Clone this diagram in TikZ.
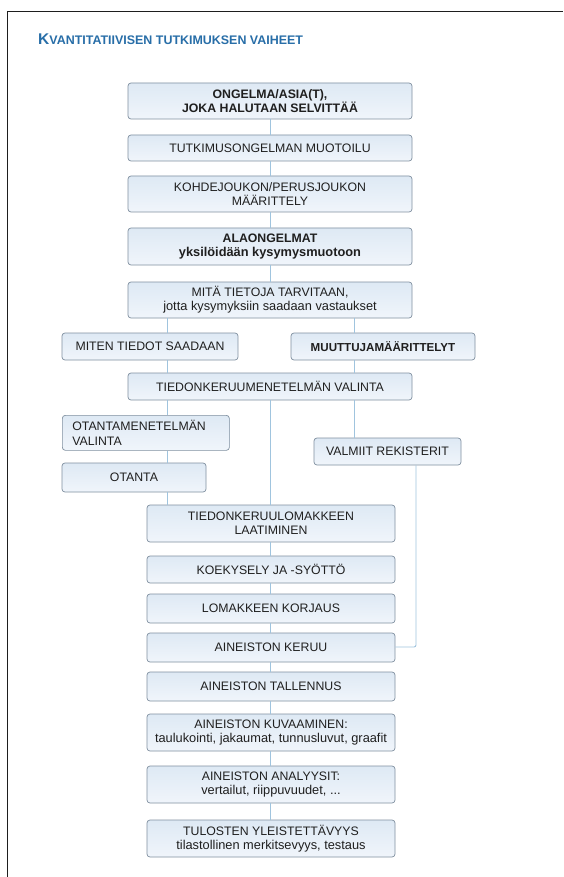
\documentclass[tikz,border=0pt]{standalone}
\usepackage{fontspec}
\setmainfont{Liberation Sans}
\definecolor{boxline}{RGB}{128,144,160}
\definecolor{boxtop}{RGB}{222,233,244}
\definecolor{boxbot}{RGB}{240,245,251}
\definecolor{conn}{RGB}{160,196,222}
\definecolor{titleblue}{RGB}{40,110,168}
\definecolor{frame}{RGB}{30,30,30}
\newcommand{\lc}{\fontsize{12.8}{14}\selectfont}
\tikzset{
  x=1pt,y=-1pt,
  box/.style={draw=boxline, line width=0.7pt, rounded corners=3pt,
    top color=boxtop, bottom color=boxbot, align=center, inner sep=0pt,
    font=\fontsize{12.3}{14}\selectfont, text=black!88},
  cn/.style={draw=conn, line width=0.9pt},
}
\newcommand{\bx}[6]{% name, x1, x2, y1, y2, text
  \node[box, minimum width=#3-#2, minimum height=#5-#4] (#1) at ({(#2+#3)/2},{(#4+#5)/2}) {#6};}
\begin{document}
\begin{tikzpicture}
\useasboundingbox (0,0) rectangle (563,877);
\fill[white] (0,0) rectangle (563,877);
\draw[frame, line width=1.3pt] (7.5,877) -- (7.5,11.5) -- (563,11.5);
\node[anchor=base west, inner sep=0pt, text=titleblue, font=\bfseries] (title) at (38,45)
  {{\fontsize{15.5}{16}\selectfont K}{\fontsize{12.45}{13}\selectfont VANTITATIIVISEN TUTKIMUKSEN VAIHEET}};

\bx{b1}{128}{412}{83}{119}{\textbf{ONGELMA/ASIA(T),}\\\textbf{JOKA HALUTAAN SELVITTÄÄ}}
\bx{b2}{128}{412}{135}{161}{TUTKIMUSONGELMAN MUOTOILU}
\bx{b3}{128}{412}{176}{212}{KOHDEJOUKON/PERUSJOUKON\\MÄÄRITTELY}
\bx{b4}{128}{412}{228}{265}{\textbf{ALAONGELMAT}\\{\lc\textbf{yksilöidään kysymysmuotoon}}}
\bx{b5}{128}{412}{282}{318}{MITÄ TIETOJA TARVITAAN,\\{\lc jotta kysymyksiin saadaan vastaukset}}
\bx{miten}{62}{238}{333}{360}{MITEN TIEDOT SAADAAN}
\bx{muut}{291}{475}{333}{360}{\fontsize{11.6}{13}\selectfont\textbf{MUUTTUJAMÄÄRITTELYT}}
\bx{tk}{128}{412}{373}{400}{TIEDONKERUUMENETELMÄN VALINTA}
\node[box, minimum width=157, minimum height=35, align=left, anchor=north west, text width=147, inner xsep=10pt] (otm) at (62,415) {OTANTAMENETELMÄN\\VALINTA};
\bx{valm}{314}{461}{438}{465}{VALMIIT REKISTERIT}
\bx{otanta}{62}{206}{463}{492}{OTANTA}
\bx{lom}{147}{395}{505}{542}{TIEDONKERUULOMAKKEEN\\LAATIMINEN}
\bx{koe}{147}{395}{556}{583}{KOEKYSELY JA -SYÖTTÖ}
\bx{korj}{147}{395}{594}{623}{LOMAKKEEN KORJAUS}
\bx{ker}{147}{395}{633}{662}{AINEISTON KERUU}
\bx{tal}{147}{395}{672}{701}{AINEISTON TALLENNUS}
\bx{kuv}{147}{395}{714}{751}{AINEISTON KUVAAMINEN:\\{\lc taulukointi, jakaumat, tunnusluvut, graafit}}
\bx{ana}{147}{395}{766}{803}{AINEISTON ANALYYSIT:\\{\lc vertailut, riippuvuudet, ...}}
\bx{tul}{147}{395}{820}{857}{TULOSTEN YLEISTETTÄVYYS\\{\lc tilastollinen merkitsevyys, testaus}}

\coordinate (cL) at (167,0);
\coordinate (cM) at (270.5,0);
\coordinate (cR) at (354,0);
\coordinate (cV) at (416,0);
\coordinate (bend) at (416,647);

\draw[cn] (b1.south -| cM) -- (b2.north -| cM);
\draw[cn] (b2.south -| cM) -- (b3.north -| cM);
\draw[cn] (b3.south -| cM) -- (b4.north -| cM);
\draw[cn] (b4.south -| cM) -- (b5.north -| cM);
\draw[cn] (b5.south -| cL) -- (miten.north -| cL);
\draw[cn] (b5.south -| cR) -- (muut.north -| cR);
\draw[cn] (miten.south -| cL) -- (tk.north -| cL);
\draw[cn] (muut.south -| cR) -- (tk.north -| cR);
\draw[cn] (tk.south -| cL) -- (otm.north -| cL);
\draw[cn] (tk.south -| cM) -- (lom.north -| cM);
\draw[cn] (tk.south -| cR) -- (valm.north -| cR);
\draw[cn] (otm.south -| cL) -- (otanta.north -| cL);
\draw[cn] (otanta.south -| cL) -- (lom.north -| cL);
\draw[cn, rounded corners=2pt] (valm.south -| cV) -- (bend) -- (bend -| ker.east);
\draw[cn] (lom.south -| cM) -- (koe.north -| cM);
\draw[cn] (koe.south -| cM) -- (korj.north -| cM);
\draw[cn] (korj.south -| cM) -- (ker.north -| cM);
\draw[cn] (ker.south -| cM) -- (tal.north -| cM);
\draw[cn] (tal.south -| cM) -- (kuv.north -| cM);
\draw[cn] (kuv.south -| cM) -- (ana.north -| cM);
\draw[cn] (ana.south -| cM) -- (tul.north -| cM);
\end{tikzpicture}
\end{document}
